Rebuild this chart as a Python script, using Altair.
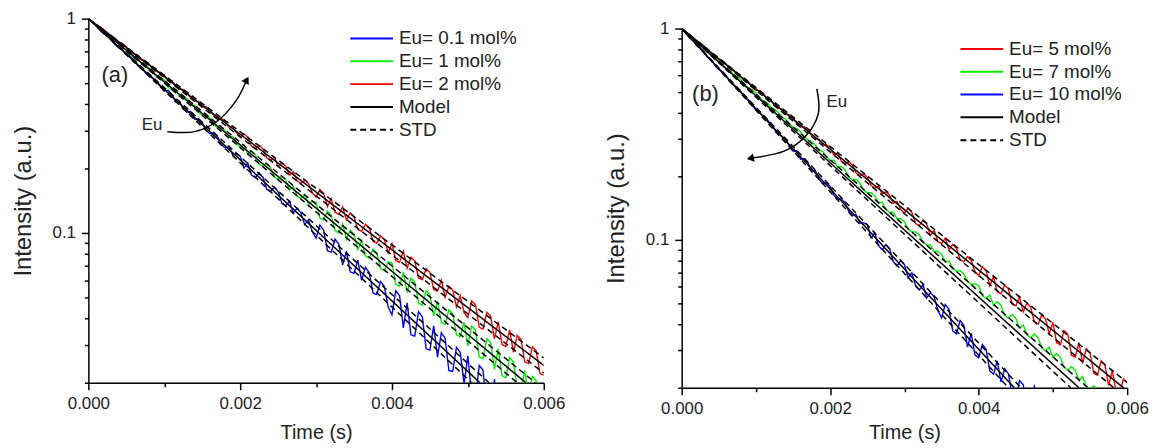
import altair as alt
import pandas as pd

FONT = "Liberation Sans"

# ---------------- data ----------------
time_s = [0.00000, 0.00005, 0.00010, 0.00015, 0.00020, 0.00025, 0.00030, 0.00035, 0.00040, 0.00045,
          0.00050, 0.00055, 0.00060, 0.00065, 0.00070, 0.00075, 0.00080, 0.00085, 0.00090, 0.00095,
          0.00100, 0.00105, 0.00110, 0.00115, 0.00120, 0.00125, 0.00130, 0.00135, 0.00140, 0.00145,
          0.00150, 0.00155, 0.00160, 0.00165, 0.00170, 0.00175, 0.00180, 0.00185, 0.00190, 0.00195,
          0.00200, 0.00205, 0.00210, 0.00215, 0.00220, 0.00225, 0.00230, 0.00235, 0.00240, 0.00245,
          0.00250, 0.00255, 0.00260, 0.00265, 0.00270, 0.00275, 0.00280, 0.00285, 0.00290, 0.00295,
          0.00300, 0.00305, 0.00310, 0.00315, 0.00320, 0.00325, 0.00330, 0.00335, 0.00340, 0.00345,
          0.00350, 0.00355, 0.00360, 0.00365, 0.00370, 0.00375, 0.00380, 0.00385, 0.00390, 0.00395,
          0.00400, 0.00405, 0.00410, 0.00415, 0.00420, 0.00425, 0.00430, 0.00435, 0.00440, 0.00445,
          0.00450, 0.00455, 0.00460, 0.00465, 0.00470, 0.00475, 0.00480, 0.00485, 0.00490, 0.00495,
          0.00500, 0.00505, 0.00510, 0.00515, 0.00520, 0.00525, 0.00530, 0.00535, 0.00540, 0.00545,
          0.00550, 0.00555, 0.00560, 0.00565, 0.00570, 0.00575, 0.00580, 0.00585, 0.00590, 0.00595,
          0.00600]

# panel (a)
a_eu01 = [1.000, 0.960, 0.936, 0.884, 0.850, 0.835, 0.804, 0.758, 0.731, 0.718,
          0.677, 0.666, 0.640, 0.604, 0.594, 0.560, 0.540, 0.530, 0.510, 0.481,
          0.460, 0.463, 0.443, 0.408, 0.411, 0.378, 0.366, 0.368, 0.339, 0.341,
          0.327, 0.301, 0.291, 0.293, 0.282, 0.259, 0.250, 0.252, 0.232, 0.234,
          0.228, 0.2007, 0.212, 0.1861, 0.181, 0.1907, 0.182, 0.1599, 0.156, 0.1639,
          0.156, 0.1374, 0.134, 0.1408, 0.124, 0.1305, 0.124, 0.1094, 0.115, 0.1015,
          0.0946, 0.1089, 0.103, 0.0826, 0.0813, 0.0936, 0.0885, 0.0710, 0.0820, 0.0658,
          0.0648, 0.0746, 0.0601, 0.0692, 0.0653, 0.0524, 0.0516, 0.0594, 0.0562, 0.0451,
          0.0415, 0.0538, 0.0510, 0.0361, 0.0472, 0.0335, 0.0330, 0.0429, 0.0406, 0.0288,
          0.0284, 0.0369, 0.0263, 0.0342, 0.0323, 0.0228, 0.0226, 0.0293, 0.0277, 0.0197,
          0.0267, 0.0174, 0.0171, 0.0241, 0.0229, 0.0150, 0.0148, 0.0208, 0.0137, 0.0193,
          0.0183]
a_eu1 = [1.000, 0.960, 0.925, 0.912, 0.882, 0.836, 0.808, 0.797, 0.770, 0.730,
         0.719, 0.681, 0.659, 0.650, 0.616, 0.607, 0.587, 0.556, 0.538, 0.530,
         0.517, 0.480, 0.465, 0.467, 0.434, 0.437, 0.422, 0.392, 0.395, 0.367,
         0.354, 0.356, 0.345, 0.320, 0.310, 0.311, 0.301, 0.279, 0.282, 0.262,
         0.250, 0.2589, 0.233, 0.2419, 0.232, 0.2086, 0.204, 0.2112, 0.202, 0.1822,
         0.178, 0.1844, 0.177, 0.1591, 0.165, 0.1487, 0.145, 0.1505, 0.136, 0.1405,
         0.139, 0.1175, 0.115, 0.1263, 0.121, 0.1026, 0.100, 0.1103, 0.0936, 0.1030,
         0.0987, 0.0837, 0.0922, 0.0782, 0.0764, 0.0841, 0.0806, 0.0684, 0.0667, 0.0734,
         0.0723, 0.0577, 0.0564, 0.0659, 0.0527, 0.0616, 0.0590, 0.0471, 0.0460, 0.0537,
         0.0514, 0.0410, 0.0481, 0.0383, 0.0375, 0.0438, 0.0420, 0.0335, 0.0328, 0.0383,
         0.0297, 0.0368, 0.0352, 0.0264, 0.0259, 0.0321, 0.0308, 0.0231, 0.0288, 0.0216,
         0.0211, 0.0262, 0.0251, 0.0189, 0.0184, 0.0228, 0.0172, 0.0214, 0.0205, 0.0154,
         0.0150]
a_eu2 = [1.000, 0.966, 0.931, 0.920, 0.892, 0.847, 0.838, 0.797, 0.772, 0.764,
         0.740, 0.704, 0.682, 0.675, 0.641, 0.633, 0.614, 0.583, 0.566, 0.560,
         0.545, 0.513, 0.513, 0.483, 0.468, 0.467, 0.453, 0.426, 0.413, 0.412,
         0.388, 0.388, 0.376, 0.354, 0.343, 0.342, 0.332, 0.312, 0.312, 0.294,
         0.280, 0.290, 0.280, 0.2540, 0.247, 0.2560, 0.247, 0.2244, 0.219, 0.2260,
         0.205, 0.2124, 0.205, 0.1861, 0.193, 0.1750, 0.170, 0.1763, 0.170, 0.1544,
         0.147, 0.1595, 0.153, 0.1328, 0.144, 0.1249, 0.122, 0.1324, 0.115, 0.1244,
         0.119, 0.1037, 0.102, 0.1098, 0.106, 0.0916, 0.0897, 0.0970, 0.0931, 0.0808,
         0.0892, 0.0743, 0.0729, 0.0821, 0.0685, 0.0771, 0.0740, 0.0617, 0.0605, 0.0681,
         0.0654, 0.0545, 0.0535, 0.0602, 0.0502, 0.0565, 0.0542, 0.0452, 0.0510, 0.0425,
         0.0403, 0.0482, 0.0463, 0.0363, 0.0356, 0.0426, 0.0409, 0.0321, 0.0385, 0.0302,
         0.0295, 0.0353, 0.0278, 0.0333, 0.0319, 0.0250, 0.0246, 0.0294, 0.0282, 0.0221,
         0.0217]

# panel (b)
b_eu5 = [1.000, 0.965, 0.943, 0.899, 0.870, 0.856, 0.828, 0.788, 0.763, 0.750,
         0.714, 0.703, 0.679, 0.647, 0.636, 0.606, 0.586, 0.577, 0.557, 0.531,
         0.510, 0.509, 0.492, 0.462, 0.461, 0.432, 0.419, 0.417, 0.392, 0.391,
         0.379, 0.356, 0.344, 0.343, 0.332, 0.311, 0.301, 0.300, 0.283, 0.282,
         0.275, 0.2520, 0.258, 0.2360, 0.230, 0.2346, 0.226, 0.2069, 0.201, 0.2057,
         0.198, 0.1815, 0.176, 0.1805, 0.165, 0.1689, 0.163, 0.1490, 0.152, 0.1395,
         0.134, 0.1413, 0.135, 0.1197, 0.117, 0.1240, 0.119, 0.1050, 0.111, 0.0982,
         0.0962, 0.1019, 0.0900, 0.0953, 0.0913, 0.0808, 0.0789, 0.0835, 0.0801, 0.0708,
         0.0678, 0.0747, 0.0716, 0.0607, 0.0670, 0.0569, 0.0556, 0.0613, 0.0587, 0.0498,
         0.0488, 0.0537, 0.0457, 0.0503, 0.0482, 0.0409, 0.0400, 0.0441, 0.0423, 0.0359,
         0.0408, 0.0326, 0.0319, 0.0373, 0.0358, 0.0285, 0.0279, 0.0327, 0.0261, 0.0306,
         0.0293, 0.0234, 0.0229, 0.0268, 0.0257, 0.0205, 0.0241, 0.0193, 0.0188, 0.0220,
         0.0211]
b_eu7 = [1.000, 0.962, 0.925, 0.907, 0.875, 0.831, 0.803, 0.787, 0.759, 0.721,
         0.708, 0.673, 0.649, 0.636, 0.604, 0.593, 0.572, 0.543, 0.524, 0.514,
         0.496, 0.471, 0.454, 0.446, 0.424, 0.415, 0.401, 0.381, 0.374, 0.355,
         0.342, 0.336, 0.325, 0.309, 0.298, 0.292, 0.281, 0.267, 0.262, 0.249,
         0.237, 0.2386, 0.221, 0.2223, 0.215, 0.1989, 0.192, 0.1929, 0.186, 0.1726,
         0.167, 0.1674, 0.162, 0.1498, 0.151, 0.1397, 0.135, 0.1354, 0.126, 0.1261,
         0.122, 0.1128, 0.109, 0.1093, 0.106, 0.0979, 0.0945, 0.0949, 0.0880, 0.0884,
         0.0854, 0.0792, 0.0795, 0.0737, 0.0711, 0.0715, 0.0691, 0.0640, 0.0617, 0.0620,
         0.0608, 0.0544, 0.0528, 0.0549, 0.0491, 0.0511, 0.0492, 0.0440, 0.0427, 0.0444,
         0.0426, 0.0382, 0.0397, 0.0356, 0.0345, 0.0359, 0.0345, 0.0308, 0.0299, 0.0311,
         0.0279, 0.0290, 0.0278, 0.0250, 0.0242, 0.0252, 0.0242, 0.0217, 0.0226, 0.0202,
         0.0196, 0.0204, 0.0196]
b_eu10 = [1.000, 0.955, 0.907, 0.886, 0.831, 0.811, 0.777, 0.729, 0.712, 0.668,
          0.640, 0.624, 0.598, 0.561, 0.538, 0.525, 0.502, 0.471, 0.461, 0.433,
          0.413, 0.404, 0.379, 0.370, 0.354, 0.333, 0.318, 0.310, 0.297, 0.279,
          0.263, 0.2648, 0.241, 0.2425, 0.232, 0.2114, 0.213, 0.1937, 0.185, 0.1867,
          0.179, 0.1627, 0.156, 0.1567, 0.150, 0.1366, 0.131, 0.1316, 0.120, 0.1206,
          0.118, 0.1024, 0.108, 0.0939, 0.0899, 0.0951, 0.0910, 0.0789, 0.0754, 0.0798,
          0.0764, 0.0662, 0.0700, 0.0607, 0.0580, 0.0614, 0.0532, 0.0563, 0.0539, 0.0466,
          0.0428, 0.0495, 0.0470, 0.0372, 0.0359, 0.0416, 0.0395, 0.0312, 0.0362, 0.0286,
          0.0277, 0.0320, 0.0304, 0.0240, 0.0232, 0.0268, 0.0213, 0.0246, 0.0233, 0.0185,
          0.0178, 0.0216, 0.0207, 0.0155, 0.0185, 0.0203, 0.0137]

# model and STD lines: start (0, 1) and end point
a_fit_kind = ["Model", "Model", "Model", "STD", "STD", "STD", "STD", "STD", "STD"]
a_fit_end_t = [0.00516, 0.005765, 0.0060, 0.00505, 0.00528, 0.00565, 0.00589, 0.0060, 0.0060]
a_fit_end_I = [0.020, 0.020, 0.0241, 0.020, 0.020, 0.020, 0.020, 0.0222, 0.0261]

b_fit_kind = ["Model", "Model", "Model", "STD", "STD", "STD", "STD", "STD", "STD"]
b_fit_end_t = [0.00448, 0.00535, 0.00595, 0.00440, 0.00457, 0.00524, 0.00547, 0.00582, 0.0060]
b_fit_end_I = [0.020, 0.020, 0.020, 0.020, 0.020, 0.020, 0.020, 0.020, 0.0212]

a_names = ["Eu= 0.1 mol%", "Eu= 1 mol%", "Eu= 2 mol%"]
b_names = ["Eu= 5 mol%", "Eu= 7 mol%", "Eu= 10 mol%"]
a_colors = ["#0000ff", "#00ee00", "#ff0000"]
b_colors = ["#ff0000", "#00ee00", "#0000ff"]

x_ticks = [0.0, 0.001, 0.002, 0.003, 0.004, 0.005, 0.006]
y_ticks = [0.02, 0.03, 0.04, 0.05, 0.06, 0.07, 0.08, 0.09, 0.1,
           0.2, 0.3, 0.4, 0.5, 0.6, 0.7, 0.8, 0.9, 1.0]

# annotations (data coordinates)
a_label = {"t": 0.00035, "I": 0.545, "text": "(a)"}
a_eu = {"t": 0.00084, "I": 0.32, "text": "Eu"}
a_arrow_t = [0.00104, 0.00140, 0.00170, 0.00194, 0.00208]
a_arrow_I = [0.297, 0.297, 0.333, 0.411, 0.512]
b_label = {"t": 0.00032, "I": 0.492, "text": "(b)"}
b_eu = {"t": 0.00209, "I": 0.447, "text": "Eu"}
b_arrow_t = [0.00182, 0.00184, 0.00167, 0.00138, 0.00094]
b_arrow_I = [0.519, 0.396, 0.310, 0.263, 0.244]


def data_rows(names, series_list):
    rows = []
    for name, vals in zip(names, series_list):
        for i, v in enumerate(vals):
            rows.append({"t": time_s[i], "I": v, "series": name, "line": name, "k": i})
    return pd.DataFrame(rows)


def fit_rows(kinds, end_t, end_I):
    rows = []
    for j, (kind, te, ie) in enumerate(zip(kinds, end_t, end_I)):
        rows.append({"t": 0.0, "I": 1.0, "series": kind, "line": f"fit{j}", "k": 0})
        rows.append({"t": te, "I": ie, "series": kind, "line": f"fit{j}", "k": 1})
    return pd.DataFrame(rows)


def make_x_axis(title_pad):
    return alt.Axis(
        values=x_ticks,
        labelExpr="round(datum.value*1000) % 2 == 0 ? format(datum.value, '.3f') : ''",
        tickSize={"condition": {"test": "round(datum.value*1000) % 2 == 0", "value": 7}, "value": 4},
        labelOverlap=False, labelFlush=False, grid=False,
        domainColor="black", domainWidth=1.5, tickColor="black", tickWidth=1.5,
        labelFont=FONT, labelFontSize=17, labelColor="#222", labelPadding=6,
        titleFont=FONT, titleFontSize=20, titleFontWeight="normal", titleColor="#222",
        titlePadding=title_pad,
    )


y_axis = alt.Axis(
    values=y_ticks,
    labelExpr="datum.value == 1 ? '1' : (abs(datum.value - 0.1) < 1e-9 ? '0.1' : '')",
    tickSize={"condition": {"test": "datum.value == 1 || abs(datum.value - 0.1) < 1e-9", "value": 7}, "value": 4},
    labelOverlap=False, labelFlush=False, grid=False,
    domainColor="black", domainWidth=1.5, tickColor="black", tickWidth=1.5,
    labelFont=FONT, labelFontSize=17, labelColor="#222", labelPadding=6,
    titleFont=FONT, titleFontSize=24, titleFontWeight="normal", titleColor="#222",
    titlePadding=17,
)


def panel(names, colors, series_list, kinds, end_t, end_I, label, eu, arrow_t, arrow_I,
          head_angle, legend_x, legend_y, width, height, x_title_pad):
    order = names + ["Model", "STD"]
    color_scale = alt.Scale(domain=order, range=colors + ["#000000", "#000000"])
    dash_scale = alt.Scale(domain=order, range=[[1, 0], [1, 0], [1, 0], [1, 0], [6, 4]])
    legend = alt.Legend(
        title=None, orient="none", legendX=legend_x, legendY=legend_y,
        symbolType="stroke", symbolSize=1849, symbolStrokeWidth=2,
        labelFont=FONT, labelFontSize=19, labelColor="#222", labelOffset=5,
        clipHeight=23, rowPadding=0, padding=0, labelLimit=300,
    )
    x = alt.X("t:Q", scale=alt.Scale(domain=[0, 0.006], nice=False, zero=False),
              axis=make_x_axis(x_title_pad), title="Time (s)")
    y = alt.Y("I:Q", scale=alt.Scale(type="log", domain=[0.02, 1], nice=False),
              axis=y_axis, title="Intensity (a.u.)")
    color = alt.Color("series:N", scale=color_scale, legend=legend)
    dash = alt.StrokeDash("series:N", scale=dash_scale, legend=legend)

    data_layer = alt.Chart(data_rows(names, series_list)).mark_line(
        strokeWidth=1.4, clip=True
    ).encode(x=x, y=y, color=color, strokeDash=dash, detail="line:N", order="k:Q")

    fit_layer = alt.Chart(fit_rows(kinds, end_t, end_I)).mark_line(
        strokeWidth=1.5, clip=True
    ).encode(x=x, y=y, color=color, strokeDash=dash, detail="line:N", order="k:Q")

    arrow_df = pd.DataFrame({"t": arrow_t, "I": arrow_I, "k": list(range(len(arrow_t)))})
    arrow_line = alt.Chart(arrow_df).mark_line(
        color="black", strokeWidth=1.5, interpolate="cardinal"
    ).encode(x="t:Q", y="I:Q", order="k:Q")
    head_df = pd.DataFrame({"t": [arrow_t[-1]], "I": [arrow_I[-1]]})
    arrow_head = alt.Chart(head_df).mark_point(
        shape="triangle", filled=True, color="black", size=70, angle=head_angle, opacity=1
    ).encode(x="t:Q", y="I:Q")

    label_df = pd.DataFrame([label])
    label_layer = alt.Chart(label_df).mark_text(
        font=FONT, fontSize=22, color="#222", align="center", baseline="middle"
    ).encode(x="t:Q", y="I:Q", text="text:N")
    eu_df = pd.DataFrame([eu])
    eu_layer = alt.Chart(eu_df).mark_text(
        font=FONT, fontSize=17, color="#222", align="center", baseline="middle"
    ).encode(x="t:Q", y="I:Q", text="text:N")

    return alt.layer(data_layer, fit_layer, arrow_line, arrow_head, label_layer, eu_layer).properties(
        width=width, height=height
    )


panel_a = panel(a_names, a_colors, [a_eu01, a_eu1, a_eu2], a_fit_kind, a_fit_end_t, a_fit_end_I,
                a_label, a_eu, a_arrow_t, a_arrow_I, 28, 263, 8.5, 459, 367, 11)
panel_b = panel(b_names, b_colors, [b_eu5, b_eu7, b_eu10], b_fit_kind, b_fit_end_t, b_fit_end_I,
                b_label, b_eu, b_arrow_t, b_arrow_I, 258, 280, 19, 449, 362, 6)

# invisible thin spacer that pushes panel (b) down a few pixels
spacer = alt.Chart(pd.DataFrame({"v": [0]})).mark_rect(opacity=0).encode(
    x=alt.value(0), x2=alt.value(0), y=alt.value(0), y2=alt.value(0)
).properties(width=449, height=1)

right = alt.vconcat(spacer, panel_b, spacing=0)

chart = alt.hconcat(panel_a, right, spacing=39).resolve_scale(
    color="independent", strokeDash="independent"
).resolve_legend(
    color="independent", strokeDash="independent"
).configure_view(stroke=None).properties(
    padding={"left": 3, "top": 0, "right": 0, "bottom": 0}
)

chart.save("out.html", embed_options={"renderer": "svg", "actions": False})
